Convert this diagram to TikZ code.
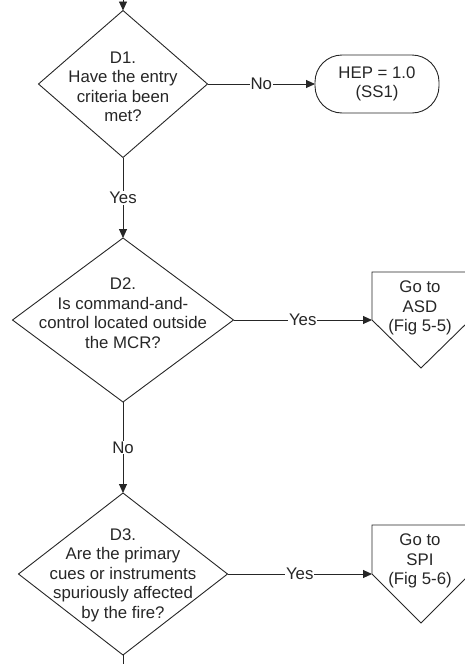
\documentclass[tikz,border=0pt]{standalone}
\usepackage{fontspec}
\setmainfont{Liberation Sans}
\usetikzlibrary{shapes.geometric,arrows.meta}
\begin{document}
\begin{tikzpicture}[x=1pt,y=-1pt,
  line/.style={draw=black!85, line width=0.9pt},
  flow/.style={line, -{Triangle[length=9pt,width=8pt]}},
  decision/.style={diamond, line, inner sep=0pt, outer sep=0pt},
  txt/.style={align=center, text=black!85, font=\fontsize{16.8}{19.5}\selectfont, inner sep=0pt},
  lbl/.style={txt, fill=white, inner sep=1pt},
  terminal/.style={rectangle, rounded corners=27pt, line, minimum width=124pt,
    minimum height=58pt, inner sep=0pt, outer sep=0pt},
  offpage/.style={rectangle, minimum width=98pt, minimum height=96pt,
    inner sep=0pt, outer sep=0pt},
]
\useasboundingbox (0,0) rectangle (464,664);

% decisions
\node[decision, minimum width=169pt, minimum height=147pt] (d1) at (123,84) {};
\node[txt] (d1t) at (123,87) {D1.\\Have the entry\\criteria been\\met?};

\node[decision, minimum width=221pt, minimum height=164pt] (d2) at (123,320) {};
\node[txt] (d2t) at (123,313) {D2.\\Is command-and-\\control located outside\\the MCR?};

\node[decision, minimum width=209pt, minimum height=162pt] (d3) at (123,574) {};
\node[txt] (d3t) at (123,575) {D3.\\Are the primary\\cues or instruments\\spuriously affected\\by the fire?};

% end state
\node[terminal] (hep) at (377,84) {};
\node[txt] (hept) at (377,84) {HEP = 1.0\\(SS1)};

% off-page connectors
\node[offpage] (asd) at (421,320) {};
\path[line] (asd.north west) -- (asd.north east) -- (asd.east) -- (asd.south) -- (asd.west) -- cycle;
\node[txt] (asdt) at (420,308) {Go to\\ASD\\(Fig 5-5)};

\node[offpage, minimum height=98pt] (spi) at (421,574) {};
\path[line] (spi.north west) -- (spi.north east) -- (spi.east) -- (spi.south) -- (spi.west) -- cycle;
\node[txt] (spit) at (420,561) {Go to\\SPI\\(Fig 5-6)};

% connectors
\coordinate (in) at (123,-20);
\coordinate (out) at (123,690);
\draw[flow] (in) -- (d1.north);
\draw[flow] (d1.east) -- node[lbl] {No} (hep.west);
\draw[flow] (d1.south) -- node[lbl] {Yes} (d2.north);
\draw[flow] (d2.east) -- node[lbl] {Yes} (asd.west);
\draw[flow] (d2.south) -- node[lbl] {No} (d3.north);
\draw[flow] (d3.east) -- node[lbl] {Yes} (spi.west);
\draw[line] (d3.south) -- (out);
\end{tikzpicture}
\end{document}
